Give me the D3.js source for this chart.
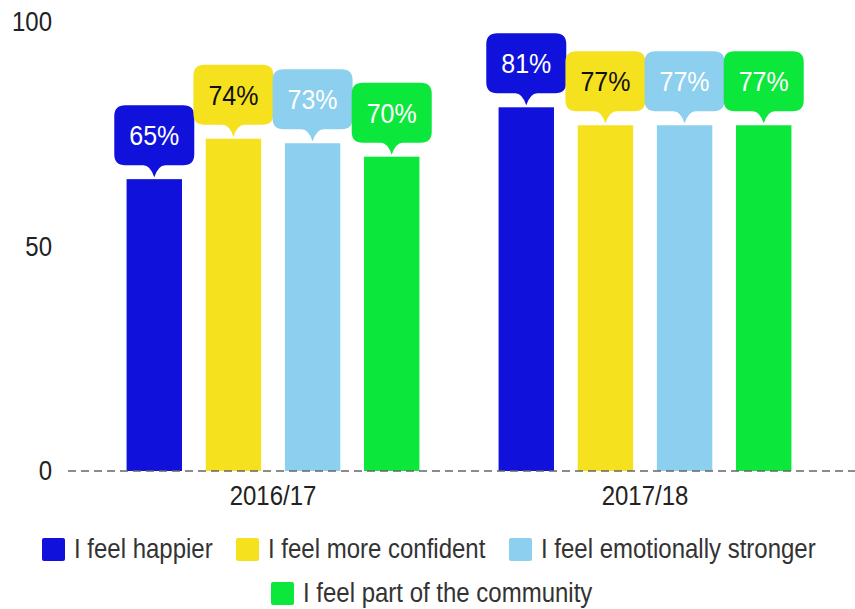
<!DOCTYPE html>
<html>
<head>
<meta charset="utf-8">
<script src="https://cdn.jsdelivr.net/npm/d3@7"></script>
<style>
  html, body { margin: 0; padding: 0; background: #fff; }
  svg { display: block; font-family: "Liberation Sans", Arial, sans-serif; }
</style>
</head>
<body>
<svg id="chart" width="855" height="609"></svg>
<script>
// Survey periods and statements
const years = ["2016/17", "2017/18"];
const seriesNames = [
  "I feel happier",
  "I feel more confident",
  "I feel emotionally stronger",
  "I feel part of the community"
];
// Percentage agreeing, one array per period (same order as seriesNames)
const values2016 = [65, 74, 73, 70];
const values2017 = [81, 77, 77, 77];
const yTicks = [0, 50, 100];

const colors = ["#1111dc", "#f5e11e", "#8ccfee", "#0ce73c"];
const labelColors = ["#ffffff", "#111111", "#ffffff", "#ffffff"];

const valuesByYear = [values2016, values2017];
const rows = [];
years.forEach((yr, i) => {
  seriesNames.forEach((s, j) => rows.push({ year: yr, series: s, value: valuesByYear[i][j], idx: j }));
});

const svg = d3.select("#chart");

const y = d3.scaleLinear().domain([0, 100]).range([471, 22]);
const x0 = d3.scaleBand().domain(years).range([87, 831]).paddingInner(0).paddingOuter(0);
const x1 = d3.scaleBand().domain(seriesNames).range([0, x0.bandwidth()]).paddingInner(0.3).paddingOuter(0.5);

// text is drawn slightly taller than its natural proportions
const stretch = (x, yy) => `translate(${x},${yy}) scale(1,1.12)`;

// y tick labels
svg.append("g").selectAll("text").data(yTicks).join("text")
  .attr("transform", d => stretch(52, y(d)))
  .attr("dy", "0.35em")
  .attr("text-anchor", "end")
  .attr("font-size", 24)
  .attr("fill", "#222")
  .text(d => d);

// bars
svg.append("g").selectAll("rect").data(rows).join("rect")
  .attr("x", d => x0(d.year) + x1(d.series))
  .attr("y", d => y(d.value))
  .attr("width", x1.bandwidth())
  .attr("height", d => y(0) - y(d.value))
  .attr("fill", d => colors[d.idx]);

// dashed baseline
svg.append("line")
  .attr("x1", 68).attr("x2", 855)
  .attr("y1", y(0)).attr("y2", y(0))
  .attr("stroke", "#666").attr("stroke-width", 1.5)
  .attr("stroke-dasharray", "8,5");

// category labels
svg.append("g").selectAll("text").data(years).join("text")
  .attr("transform", d => stretch(x0(d) + x0.bandwidth() / 2, 496))
  .attr("dy", "0.35em")
  .attr("text-anchor", "middle")
  .attr("font-size", 24)
  .attr("fill", "#222")
  .text(d => d);

// callout bubbles above each bar
const bw = 80, bh = 60, r = 11, tipW = 22, tipH = 12;
function bubblePath(cx, tipY) {
  const bottom = tipY - tipH;
  const top = bottom - bh;
  const l = cx - bw / 2, rt = cx + bw / 2;
  return `M${l + r},${top} H${rt - r} Q${rt},${top} ${rt},${top + r}` +
    ` V${bottom - r} Q${rt},${bottom} ${rt - r},${bottom}` +
    ` H${cx + tipW / 2} Q${cx + 4},${bottom} ${cx},${tipY}` +
    ` Q${cx - 4},${bottom} ${cx - tipW / 2},${bottom}` +
    ` H${l + r} Q${l},${bottom} ${l},${bottom - r}` +
    ` V${top + r} Q${l},${top} ${l + r},${top} Z`;
}
const callouts = svg.append("g").selectAll("g").data(rows).join("g");
callouts.append("path")
  .attr("d", d => bubblePath(x0(d.year) + x1(d.series) + x1.bandwidth() / 2, y(d.value) - 2))
  .attr("fill", d => colors[d.idx]);
callouts.append("text")
  .attr("transform", d => stretch(x0(d.year) + x1(d.series) + x1.bandwidth() / 2, y(d.value) - 2 - tipH - bh / 2))
  .attr("dy", "0.35em")
  .attr("text-anchor", "middle")
  .attr("font-size", 25)
  .attr("fill", d => labelColors[d.idx])
  .text(d => d.value + "%");

// legend
const legendPos = [
  { x: 42, y: 549 },
  { x: 236, y: 549 },
  { x: 509, y: 549 },
  { x: 271, y: 593 }
];
const legend = svg.append("g").selectAll("g").data(seriesNames).join("g")
  .attr("transform", (d, i) => `translate(${legendPos[i].x},${legendPos[i].y})`);
legend.append("rect")
  .attr("x", 0).attr("y", -11).attr("width", 23).attr("height", 23).attr("rx", 2)
  .attr("fill", (d, i) => colors[i]);
legend.append("text")
  .attr("transform", "translate(32,0) scale(1,1.12)")
  .attr("dy", "0.35em")
  .attr("font-size", 24)
  .attr("fill", "#333")
  .text(d => d);
</script>
</body>
</html>
